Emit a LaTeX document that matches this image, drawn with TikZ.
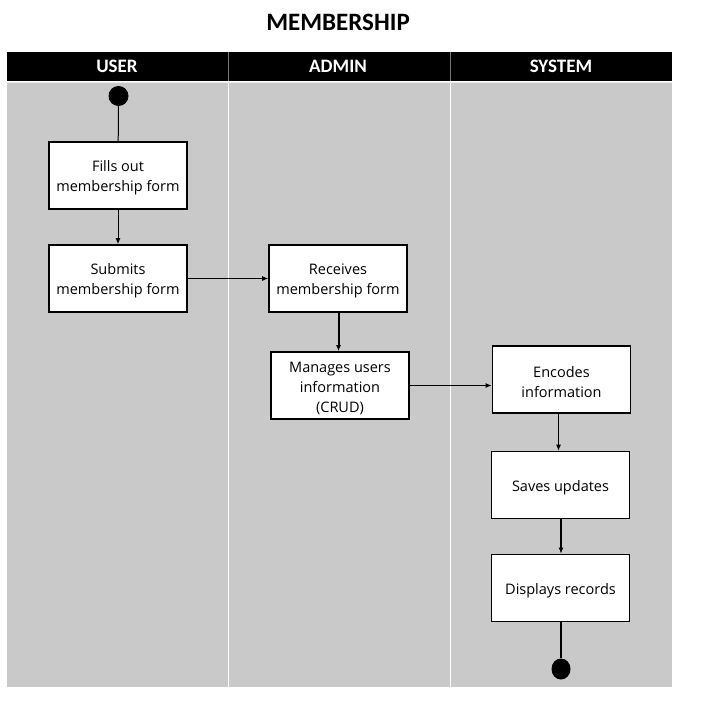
\documentclass[tikz,border=0pt]{standalone}
\usepackage{fontspec}
\setmainfont{Carlito}
\newfontfamily\boxfont{Open Sans}
\usetikzlibrary{arrows.meta,shapes.geometric}
\definecolor{lanegray}{RGB}{201,201,201}
\definecolor{hdrsep}{RGB}{120,120,120}
\tikzset{
  actbox/.style={draw=black, line width=1.6pt, fill=white, minimum width=138pt, minimum height=67pt, inner sep=0pt},
  boxtext/.style={align=center, inner sep=0pt, yshift=-2.5pt, font=\boxfont\fontsize{14.5}{20}\selectfont},
  flow/.style={draw=black, line width=1pt, -{Latex[length=6pt,width=5pt]}},
  flowmid/.style={draw=black, line width=1.4pt, -{Latex[length=6pt,width=5pt]}},
  flowthick/.style={draw=black, line width=2pt, -{Latex[length=6pt,width=5pt]}},
  dot/.style={fill=black, inner sep=0pt},
  hdr/.style={text=white, font=\bfseries\fontsize{19}{22}\selectfont},
}
\begin{document}
\begin{tikzpicture}[x=1pt,y=-1pt]
\useasboundingbox (0,0) rectangle (704,728);
\fill[white] (0,0) rectangle (704,728);
% title
\node[font=\bfseries\fontsize{25}{28}\selectfont] (title) at (338,22) {MEMBERSHIP};
% lanes body
\fill[lanegray] (7,82) rectangle (672,687);
\draw[white, line width=1pt] (228,82) -- (228,687);
\draw[white, line width=1pt] (450,82) -- (450,687);
\draw[white!92!black, line width=1pt] (7,82) -- (672,82);
% header
\fill[black] (7,52) rectangle (672,81);
\draw[hdrsep, line width=0.8pt] (228,52) -- (228,81);
\draw[hdrsep, line width=0.8pt] (450,52) -- (450,81);
\node[hdr] (huser) at (117,66.5) {USER};
\node[hdr] (hadmin) at (338,66.5) {ADMIN};
\node[hdr] (hsys) at (561,66.5) {SYSTEM};
% nodes
\node[dot, circle, minimum size=20pt] (start) at (118.5,96) {};
\node[actbox, label={[boxtext]center:Fills out\\membership form}] (b1) at (118,175.5) {};
\node[actbox, label={[boxtext]center:Submits\\membership form}] (b2) at (118,278.5) {};
\node[actbox, label={[boxtext]center:Receives\\membership form}] (b3) at (338,278.5) {};
\node[actbox, label={[boxtext]center:Manages users\\information\\(CRUD)}] (b4) at (340,385.5) {};
\node[actbox, label={[boxtext]center:Encodes\\information}] (b5) at (561.5,379.5) {};
\node[actbox, label={[boxtext]center:Saves updates}] (b6) at (560.5,485) {};
\node[actbox, label={[boxtext]center:Displays records}] (b7) at (560.5,588) {};
\node[dot, ellipse, minimum width=19pt, minimum height=21pt] (end) at (561,669) {};
% connectors
\draw[draw=black, line width=1pt] (start) -- (b1);
\draw[flow] (b1) -- (b2);
\draw[flow] (b2) -- (b3);
\draw[flowthick] ([xshift=0.5pt]b3.south) -- ([xshift=-1.5pt]b4.north);
\draw[flowmid] (b4.east) -- (b4.east -| b5.west);
\draw[flow] ([xshift=-3pt]b5.south) -- ([xshift=-2pt]b6.north);
\draw[flowthick] ([xshift=0.5pt]b6.south) -- ([xshift=0.5pt]b7.north);
\draw[black, line width=2.4pt] ([xshift=0.5pt]b7.south) -- (end);
\end{tikzpicture}
\end{document}
